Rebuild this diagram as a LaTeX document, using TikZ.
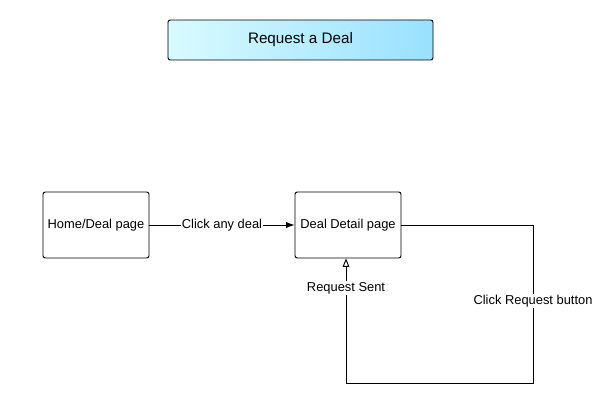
\documentclass[tikz,border=0pt]{standalone}
\usepackage{fontspec}
\setmainfont{Liberation Sans}
\usetikzlibrary{positioning,arrows.meta,calc}

\begin{document}
\begin{tikzpicture}[
    x=0.03cm, y=-0.03cm,
    page/.style={rectangle, draw, thick, fill=white, minimum width=3.18cm, minimum height=1.98cm, rounded corners=2pt, font=\fontsize{11}{13}\selectfont},
    title/.style={rectangle, draw, thick, left color=blue!12!cyan!15, right color=blue!30!cyan!40, minimum width=7.95cm, minimum height=1.2cm, rounded corners=2pt, font=\fontsize{13}{15}\selectfont},
    arrow/.style={-{Latex[length=2.5mm]}, thick},
    openarrow/.style={-{Triangle[open, length=2.5mm, width=2mm]}, thick},
    signal/.style={fill=white, inner sep=1pt, font=\fontsize{11}{13}\selectfont}
]
\useasboundingbox (0,0) rectangle (601,404);

% Title
\node[title] (heading) at (300.5,40) {Request a Deal};

% Pages
\node[page] (home) at (96,225) {Home/Deal page};
\node[page] (detail) at (348,225) {Deal Detail page};

% Loop corners
\coordinate (turn_a) at (533,225);
\coordinate (turn_b) at (533,383);
\coordinate (turn_c) at (346,383);

% Arrows
\draw[arrow] (home) -- node[signal] {Click any deal} (detail);
\draw[thick] (detail.east) -- (turn_a) -- node[signal, pos=0.48] {Click Request button} (turn_b) -- (turn_c);
\draw[openarrow] (turn_c) -- node[signal, pos=0.76] {Request Sent} (turn_c |- detail.south);

\end{tikzpicture}
\end{document}
